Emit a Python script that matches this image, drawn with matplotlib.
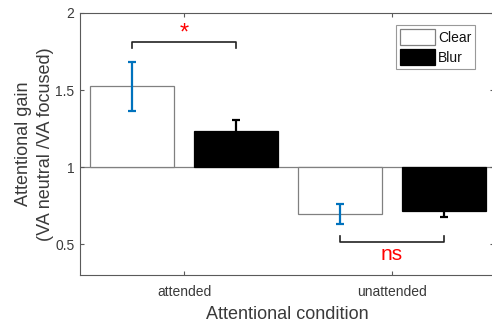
import numpy as np
import matplotlib
matplotlib.use("Agg")
from matplotlib import pyplot as plt

conditions = ["attended", "unattended"]
clear_gain = [1.525, 0.695]
clear_err = [0.16, 0.065]
blur_gain = [1.235, 0.715]
blur_err = [0.07, 0.04]

plt.rcParams['font.family'] = ['Liberation Sans', 'DejaVu Sans']
axis_grey = "#5a5a5a"
text_grey = "#3a3a3a"

fig = plt.figure(figsize=(4.92, 3.25), dpi=100)
ax = fig.add_axes([80 / 492, 50 / 325, 414 / 492, 262 / 325])

x = np.arange(1, len(conditions) + 1)
offset = 0.25
width = 0.4
base = 1.0

# bars grow up or down from the neutral level of 1
ax.bar(x - offset, np.array(clear_gain) - base, width, bottom=base,
       facecolor="white", edgecolor="#808080", linewidth=0.9, label="Clear", zorder=2)
ax.bar(x + offset, np.array(blur_gain) - base, width, bottom=base,
       facecolor="black", edgecolor="black", linewidth=0.9, label="Blur", zorder=2)
ax.axhline(base, color="#808080", linewidth=0.9, zorder=1)

ax.errorbar(x - offset, clear_gain, yerr=clear_err, fmt="none", ecolor="#0072BD",
            elinewidth=1.6, capsize=3.2, capthick=1.6, zorder=3)
ax.errorbar(x + offset, blur_gain, yerr=blur_err, fmt="none", ecolor="black",
            elinewidth=1.6, capsize=3.2, capthick=1.6, zorder=3)

# significance brackets
def bracket(x0, x1, y, tick, label, ty, size):
    ax.plot([x0, x0, x1, x1], [y - tick, y, y, y - tick], color="#222222",
            linewidth=1.2, zorder=3)
    ax.text((x0 + x1) / 2, ty, label, color="red", ha="center", va="center",
            fontsize=size)

bracket(x[0] - offset, x[0] + offset, 1.81, 0.04, "*", 1.87, 17)
bracket(x[1] - offset, x[1] + offset, 0.513, -0.037, "ns", 0.43, 15)

ax.set_xlim(0.5, 2.49)
ax.set_ylim(0.3, 2.0)
ax.set_xticks(x)
ax.set_xticklabels(conditions)
ax.set_yticks([0.5, 1, 1.5, 2])
ax.set_yticklabels(["0.5", "1", "1.5", "2"])

for side in ["left", "bottom", "top", "right"]:
    ax.spines[side].set_color(axis_grey)
    ax.spines[side].set_linewidth(0.8)
ax.tick_params(direction="in", top=True, right=True, length=3, width=0.8,
               color=axis_grey, labelcolor=text_grey, labelsize=10, pad=4)
ax.tick_params(axis="x", pad=7)

ax.set_xlabel("Attentional condition", fontsize=13, color=text_grey, labelpad=5)
ax.set_ylabel("Attentional gain\n(VA neutral /VA focused)", fontsize=13,
              color=text_grey, labelpad=1, linespacing=1.35)

leg = ax.legend(loc="upper right", bbox_to_anchor=(0.955, 0.955), fontsize=10,
                frameon=True, fancybox=False, edgecolor="#808080",
                handlelength=2.5, handleheight=1.4, handletextpad=0.2,
                borderpad=0.3, labelspacing=0.3, borderaxespad=0)
leg.get_frame().set_linewidth(0.8)
for t in leg.get_texts():
    t.set_color("#111111")

fig.savefig("out.png", dpi=100)
